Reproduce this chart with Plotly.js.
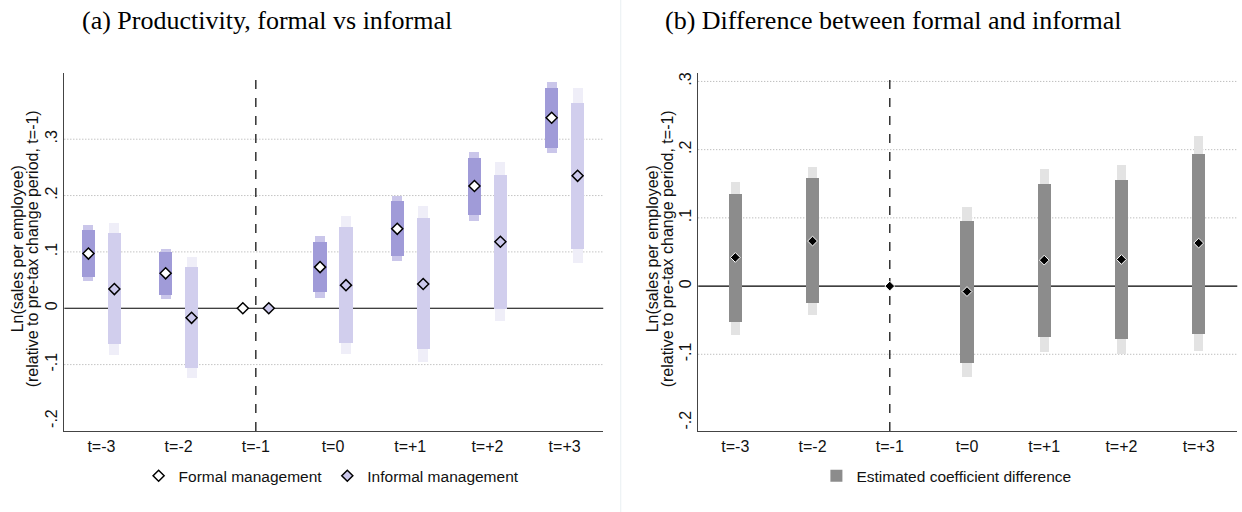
<!DOCTYPE html>
<html>
<head>
<meta charset="utf-8">
<script src="https://cdn.plot.ly/plotly-3.0.1.min.js"></script>
<style>
html,body{margin:0;padding:0;background:#fff;}
#chart{width:1242px;height:512px;}
</style>
</head>
<body>
<div id="chart"></div>
<script>
// ---- Data ----
const periods = ['t=-3','t=-2','t=-1','t=0','t=+1','t=+2','t=+3'];

const formalCoef  = [0.097, 0.062, 0, 0.073, 0.141, 0.217, 0.338];
const formalLo90  = [0.056, 0.024, null, 0.028, 0.093, 0.165, 0.285];
const formalHi90  = [0.138, 0.099, null, 0.118, 0.190, 0.267, 0.391];
const formalLo95  = [0.048, 0.017, null, 0.019, 0.083, 0.155, 0.275];
const formalHi95  = [0.147, 0.106, null, 0.128, 0.199, 0.277, 0.401];

const informalCoef = [0.034, -0.017, 0, 0.041, 0.043, 0.118, 0.235];
const informalLo90 = [-0.064, -0.106, null, -0.062, -0.073, -0.001, 0.105];
const informalHi90 = [0.134, 0.074, null, 0.145, 0.160, 0.237, 0.365];
const informalLo95 = [-0.083, -0.124, null, -0.082, -0.095, -0.023, 0.080];
const informalHi95 = [0.152, 0.091, null, 0.164, 0.182, 0.260, 0.390];

const diffCoef = [0.042, 0.066, 0, -0.008, 0.038, 0.039, 0.063];
const diffLo90 = [-0.052, -0.025, null, -0.113, -0.075, -0.078, -0.070];
const diffHi90 = [0.135, 0.158, null, 0.096, 0.150, 0.156, 0.194];
const diffLo95 = [-0.071, -0.043, null, -0.133, -0.097, -0.100, -0.095];
const diffHi95 = [0.153, 0.175, null, 0.116, 0.172, 0.178, 0.220];

const yTickVals = [-0.2, -0.1, 0, 0.1, 0.2, 0.3];
const yTickText = ['-.2', '-.1', '0', '.1', '.2', '.3'];
const gridVals = [-0.1, 0.1, 0.2, 0.3];

const titleA = '(a) Productivity, formal vs informal';
const titleB = '(b) Difference between formal and informal';
const yTitle1 = 'Ln(sales per employee)';
const yTitle2 = '(relative to pre-tax change period, t=-1)';

// ---- Helpers ----
const idx = periods.map((_, i) => i);
const OFF = 0.168;
function rangeBar(pos, lo, hi, color, width, xa, ya, name) {
  const xs = [], base = [], len = [];
  pos.forEach((p, i) => {
    if (lo[i] === null || hi[i] === null) return;
    xs.push(p); base.push(lo[i]); len.push(hi[i] - lo[i]);
  });
  return {type:'bar', x:xs, y:len, base:base, width:width, xaxis:xa, yaxis:ya,
          marker:{color:color, line:{width:0}}, showlegend:false, hoverinfo:'skip', name:name};
}

const posF = idx.map(i => i - OFF);
const posI = idx.map(i => i + OFF);

const traces = [
  rangeBar(posF, formalLo95, formalHi95, '#cac6ea', 0.13, 'x', 'y'),
  rangeBar(posF, formalLo90, formalHi90, '#a09bd8', 0.172, 'x', 'y'),
  rangeBar(posI, informalLo95, informalHi95, '#efeef8', 0.13, 'x', 'y'),
  rangeBar(posI, informalLo90, informalHi90, '#d1ceed', 0.172, 'x', 'y'),
  {type:'scatter', mode:'markers', x:posF, y:formalCoef, xaxis:'x', yaxis:'y',
   name:'Formal management', legend:'legend',
   marker:{symbol:'diamond', size:8.5, color:'#ffffff', line:{color:'#000', width:1.5}}},
  {type:'scatter', mode:'markers', x:posI, y:informalCoef, xaxis:'x', yaxis:'y',
   name:'Informal management', legend:'legend',
   marker:{symbol:'diamond', size:8.5, color:'#cbc8ec', line:{color:'#000', width:1.5}}},
  rangeBar(idx, diffLo95, diffHi95, '#e3e3e3', 0.12, 'x2', 'y2'),
  Object.assign(rangeBar(idx, diffLo90, diffHi90, '#8c8c8c', 0.172, 'x2', 'y2', 'Estimated coefficient difference'),
    {showlegend:true, legend:'legend2'}),
  {type:'scatter', mode:'markers', x:idx, y:diffCoef, xaxis:'x2', yaxis:'y2',
   showlegend:false, hoverinfo:'skip',
   marker:{symbol:'diamond', size:7.5, color:'#000', line:{color:'#fff', width:1}}}
];

const sans = 'Liberation Sans, Arial, Helvetica, sans-serif';
const axFont = {family:sans, size:16, color:'#111'};
const yDomain = [0.158, 0.858];

function xAxis(domain, anchor) {
  return {domain:domain, anchor:anchor, range:[-0.48, 6.5], tickvals:idx, ticktext:periods,
          showline:true, linecolor:'#444', linewidth:1.3, showgrid:false, zeroline:false,
          ticks:'', tickfont:axFont, fixedrange:true};
}
function yAxis(domain, anchor, range) {
  return {domain:domain, anchor:anchor, range:range, tickvals:yTickVals, ticktext:yTickText,
          tickangle:-90, showline:true, linecolor:'#444', linewidth:1.3, showgrid:false,
          zeroline:false, ticks:'', tickfont:axFont, fixedrange:true};
}

const shapes = [];
[['x','y'],['x2','y2']].forEach(([xa, ya]) => {
  gridVals.forEach(v => shapes.push({type:'line', xref:xa+' domain', yref:ya, x0:0, x1:1, y0:v, y1:v,
    line:{color:'#a8a8a8', width:1, dash:'1px,2px'}, layer:'below'}));
  shapes.push({type:'line', xref:xa+' domain', yref:ya, x0:0, x1:1, y0:0, y1:0,
    line:{color:'#000', width:1.2}, layer:'below'});
  shapes.push({type:'line', xref:xa, yref:ya+' domain', x0:2, x1:2, y0:0, y1:1,
    line:{color:'#333', width:1.5, dash:'dash'}, layer:'below'});
});
shapes.push({type:'line', xref:'paper', yref:'paper', x0:0.4998, x1:0.4998, y0:0, y1:1,
  line:{color:'#e9eff2', width:1}});

const serif = 'Liberation Serif, Times New Roman, serif';
const ytFont = {family:sans, size:16, color:'#111'};
const yMid = (yDomain[0] + yDomain[1]) / 2 + 0.005;
function yTitleAnn(xpx, text) {
  return {text:text, xref:'paper', yref:'paper', x:xpx/1242, y:yMid, xanchor:'center', yanchor:'middle',
          textangle:-90, showarrow:false, font:ytFont};
}

const layout = {
  width:1242, height:512, margin:{l:0, r:0, t:0, b:0},
  paper_bgcolor:'#fff', plot_bgcolor:'rgba(0,0,0,0)',
  barmode:'overlay', bargap:0,
  font:{family:sans, color:'#111'},
  xaxis: xAxis([0.0518, 0.4857], 'y'),
  yaxis: yAxis(yDomain, 'x', [-0.218, 0.418]),
  xaxis2: xAxis([0.5622, 0.9962], 'y2'),
  yaxis2: yAxis(yDomain, 'x2', [-0.2126, 0.3128]),
  shapes: shapes,
  legend:{orientation:'h', x:0.267, xanchor:'center', y:0.07, yanchor:'middle',
          font:{family:sans, size:15.5, color:'#111'}, bgcolor:'rgba(0,0,0,0)', itemclick:false},
  legend2:{orientation:'h', x:0.762, xanchor:'center', y:0.07, yanchor:'middle',
          font:{family:sans, size:15.5, color:'#111'}, bgcolor:'rgba(0,0,0,0)', itemclick:false},
  annotations:[
    {text:titleA, xref:'paper', yref:'paper', x:80/1242, y:1-20/512,
     xanchor:'left', yanchor:'middle', showarrow:false, font:{family:serif, size:26, color:'#000'}},
    {text:titleB, xref:'paper', yref:'paper', x:663/1242, y:1-20/512,
     xanchor:'left', yanchor:'middle', showarrow:false, font:{family:serif, size:26, color:'#000'}},
    yTitleAnn(17, yTitle1), yTitleAnn(32, yTitle2),
    yTitleAnn(635 + 17, yTitle1), yTitleAnn(635 + 32, yTitle2)
  ]
};

Plotly.newPlot('chart', traces, layout, {displayModeBar:false, staticPlot:true});
</script>
</body>
</html>
